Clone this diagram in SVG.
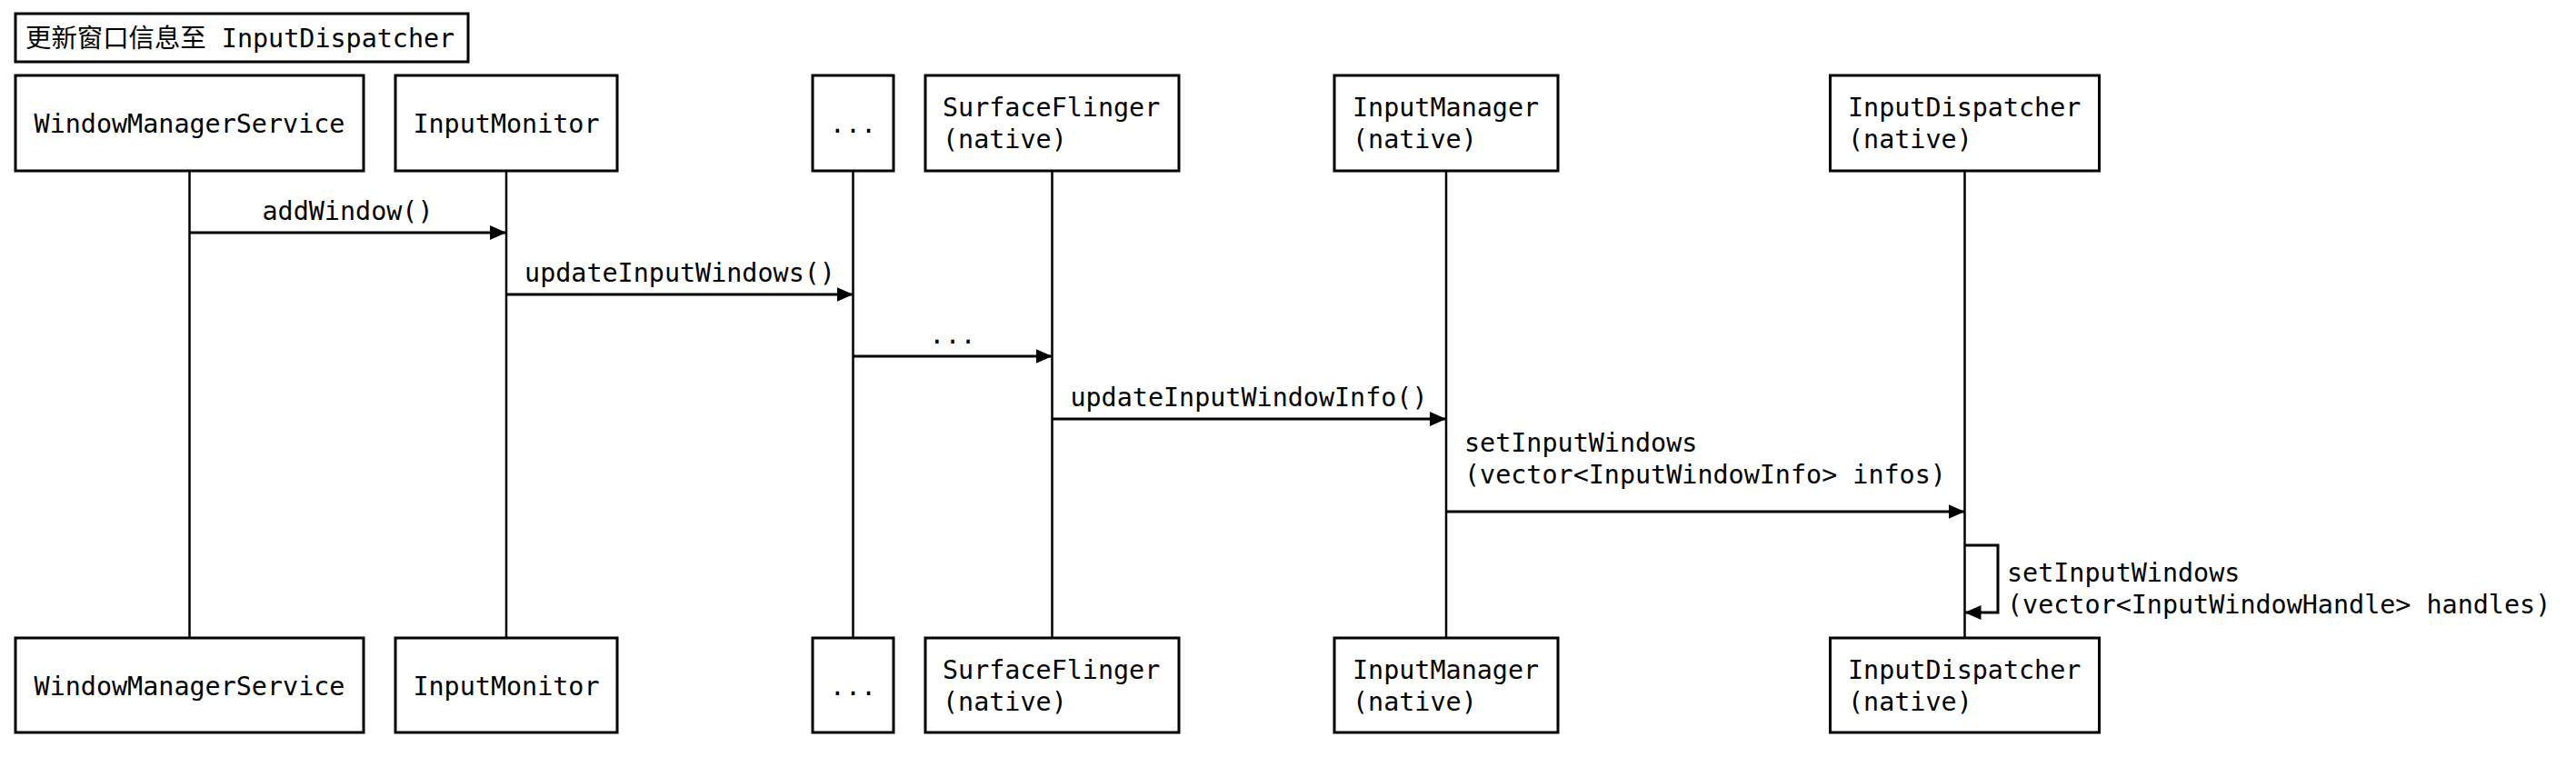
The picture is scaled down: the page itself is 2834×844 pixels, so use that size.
<svg xmlns="http://www.w3.org/2000/svg" width="2834" height="844" viewBox="0 0 2834 844">
<style>
.box{fill:#fff;stroke:#000;stroke-width:3}
.life{stroke:#000;stroke-width:2.5;fill:none}
.msg{stroke:#000;stroke-width:3;fill:none;marker-end:url(#arr)}
text{font-family:"DejaVu Sans Mono","Noto Sans CJK SC",monospace;font-size:28.4px;fill:#000}
.c{text-anchor:middle}
</style>
<defs>
<marker id="arr" viewBox="0 0 18 16" refX="18" refY="8" markerWidth="18" markerHeight="16" markerUnits="userSpaceOnUse" orient="auto">
<path d="M0,0 L18,8 L0,16 z" fill="#000"/>
</marker>
</defs>
<rect width="2834" height="844" fill="#fff"/>
<g id="title">
<rect class="box" x="17" y="15" width="498" height="53"/>
<text x="28" y="52">更新窗口信息至 InputDispatcher</text>
</g>
<g id="lifelines">
<line class="life" x1="208.5" y1="188" x2="208.5" y2="702"/>
<line class="life" x1="557" y1="188" x2="557" y2="702"/>
<line class="life" x1="938.5" y1="188" x2="938.5" y2="702"/>
<line class="life" x1="1157.5" y1="188" x2="1157.5" y2="702"/>
<line class="life" x1="1591" y1="188" x2="1591" y2="702"/>
<line class="life" x1="2161.5" y1="188" x2="2161.5" y2="702"/>
</g>
<g id="wms">
<rect class="box" x="17" y="83" width="383" height="105"/>
<text class="c" x="208.5" y="146">WindowManagerService</text>
<rect class="box" x="17" y="702" width="383" height="104"/>
<text class="c" x="208.5" y="765">WindowManagerService</text>
</g>
<g id="inputmonitor">
<rect class="box" x="435" y="83" width="244" height="105"/>
<text class="c" x="557" y="146">InputMonitor</text>
<rect class="box" x="435" y="702" width="244" height="104"/>
<text class="c" x="557" y="765">InputMonitor</text>
</g>
<g id="ellipsis">
<rect class="box" x="894" y="83" width="89" height="105"/>
<text class="c" x="938.5" y="146">...</text>
<rect class="box" x="894" y="702" width="89" height="104"/>
<text class="c" x="938.5" y="765">...</text>
</g>
<g id="surfaceflinger">
<rect class="box" x="1018" y="83" width="279" height="105"/>
<text x="1037" y="128">SurfaceFlinger</text>
<text x="1037" y="163">(native)</text>
<rect class="box" x="1018" y="702" width="279" height="104"/>
<text x="1037" y="747">SurfaceFlinger</text>
<text x="1037" y="782">(native)</text>
</g>
<g id="inputmanager">
<rect class="box" x="1468" y="83" width="246" height="105"/>
<text x="1488" y="128">InputManager</text>
<text x="1488" y="163">(native)</text>
<rect class="box" x="1468" y="702" width="246" height="104"/>
<text x="1488" y="747">InputManager</text>
<text x="1488" y="782">(native)</text>
</g>
<g id="inputdispatcher">
<rect class="box" x="2013.5" y="83" width="296" height="105"/>
<text x="2033" y="128">InputDispatcher</text>
<text x="2033" y="163">(native)</text>
<rect class="box" x="2013.5" y="702" width="296" height="104"/>
<text x="2033" y="747">InputDispatcher</text>
<text x="2033" y="782">(native)</text>
</g>
<g id="connectors">
<line class="msg" x1="208.5" y1="256" x2="557" y2="256"/>
<text class="c" x="382.5" y="242">addWindow()</text>
<line class="msg" x1="557" y1="324" x2="938.5" y2="324"/>
<text class="c" x="748" y="310">updateInputWindows()</text>
<line class="msg" x1="938.5" y1="392" x2="1157.5" y2="392"/>
<text class="c" x="1048" y="378">...</text>
<line class="msg" x1="1157.5" y1="461" x2="1591" y2="461"/>
<text class="c" x="1374" y="447">updateInputWindowInfo()</text>
<line class="msg" x1="1591" y1="563" x2="2161.5" y2="563"/>
<text x="1611" y="497">setInputWindows</text>
<text x="1611" y="532">(vector&lt;InputWindowInfo&gt; infos)</text>
<path class="msg" d="M2161.5,600 H2198 V674 H2161.5"/>
<text x="2208" y="640">setInputWindows</text>
<text x="2208" y="675">(vector&lt;InputWindowHandle&gt; handles)</text>
</g>
</svg>
